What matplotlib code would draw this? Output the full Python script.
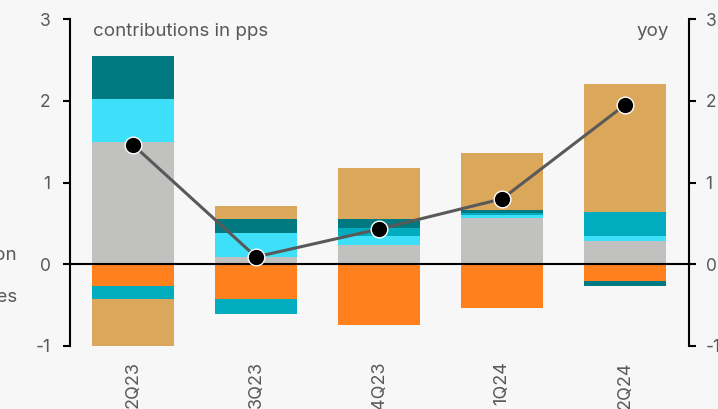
import matplotlib
matplotlib.use("Agg")
from matplotlib import pyplot as plt
import numpy as np

quarters = ["2Q23", "3Q23", "4Q23", "1Q24", "2Q24"]

# contributions in pps, one list per component
grey = [1.49, 0.09, 0.24, 0.56, 0.28]
orange = [-0.26, -0.43, -0.74, -0.54, -0.20]
light_cyan = [0.53, 0.29, 0.10, 0.04, 0.07]
mid_teal = [-0.17, -0.18, 0.105, 0.03, 0.29]
dark_teal = [0.53, 0.17, 0.105, 0.03, -0.07]
tan = [-0.59, 0.16, 0.63, 0.70, 1.57]

yoy = [1.46, 0.09, 0.43, 0.80, 1.95]

series = [
    (grey, "#c1c2bf"),
    (orange, "#ff801c"),
    (light_cyan, "#3edff8"),
    (mid_teal, "#00acbe"),
    (dark_teal, "#007a80"),
    (tan, "#dba75a"),
]

bg = "#f6f7f6"
txt = "#595959"
plt.rcParams["font.family"] = ["Inter", "DejaVu Sans"]
plt.rcParams["axes.unicode_minus"] = False

fig = plt.figure(figsize=(7.18, 4.09), dpi=100, facecolor=bg)
ax = fig.add_axes([70 / 718, 63 / 409, 619 / 718, 327 / 409], facecolor=bg)

x = np.arange(len(quarters))
pos_base = np.zeros(len(quarters))
neg_base = np.zeros(len(quarters))
for vals, col in series:
    vals = np.array(vals)
    base = np.where(vals >= 0, pos_base, neg_base)
    ax.bar(x, vals, width=0.667, bottom=base, color=col, edgecolor="none", zorder=2)
    pos_base += np.where(vals >= 0, vals, 0)
    neg_base += np.where(vals < 0, vals, 0)

ax.axhline(0, color="black", lw=1.5, zorder=3)

ax.set_xlim(-0.512, 4.52)
ax.set_ylim(-1, 3)
ax.set_yticks([-1, 0, 1, 2, 3])
ax.set_xticks(x)
ax.set_xticklabels(quarters, rotation=90, va="top", ha="center")
ax.tick_params(axis="x", length=0, pad=11, labelsize=13, labelcolor=txt)
ax.tick_params(axis="y", direction="out", length=5, width=1.5, pad=9, labelsize=12.5, labelcolor=txt)
for s in ["top", "right", "bottom"]:
    ax.spines[s].set_visible(False)
ax.spines["left"].set_linewidth(1.5)

ax2 = ax.twinx()
ax2.set_ylim(-1, 3)
ax2.set_yticks([-1, 0, 1, 2, 3])
ax2.tick_params(axis="y", direction="out", length=5, width=1.5, pad=7, labelsize=12.5, labelcolor=txt)
for s in ["top", "left", "bottom"]:
    ax2.spines[s].set_visible(False)
ax2.spines["right"].set_linewidth(1.5)

ax2.plot(x, yoy, color=txt, lw=2.2, marker="o", markersize=12,
         markerfacecolor="black", markeredgecolor="white", markeredgewidth=1, zorder=4)

fig.text(93 / 718, 1 - 31 / 409, "contributions in pps", color=txt, fontsize=13.5, ha="left", va="center")
fig.text(669 / 718, 1 - 31 / 409, "yoy", color=txt, fontsize=13.5, ha="right", va="center")

# legend labels sitting left of the axes
fig.text(17 / 718, 1 - 256 / 409, "private consumption", color=txt, fontsize=13.5, ha="right", va="center")
fig.text(17 / 718, 1 - 297 / 409, "changes in inventories", color=txt, fontsize=13.5, ha="right", va="center")

fig.savefig("out.png", dpi=100, facecolor=bg)
